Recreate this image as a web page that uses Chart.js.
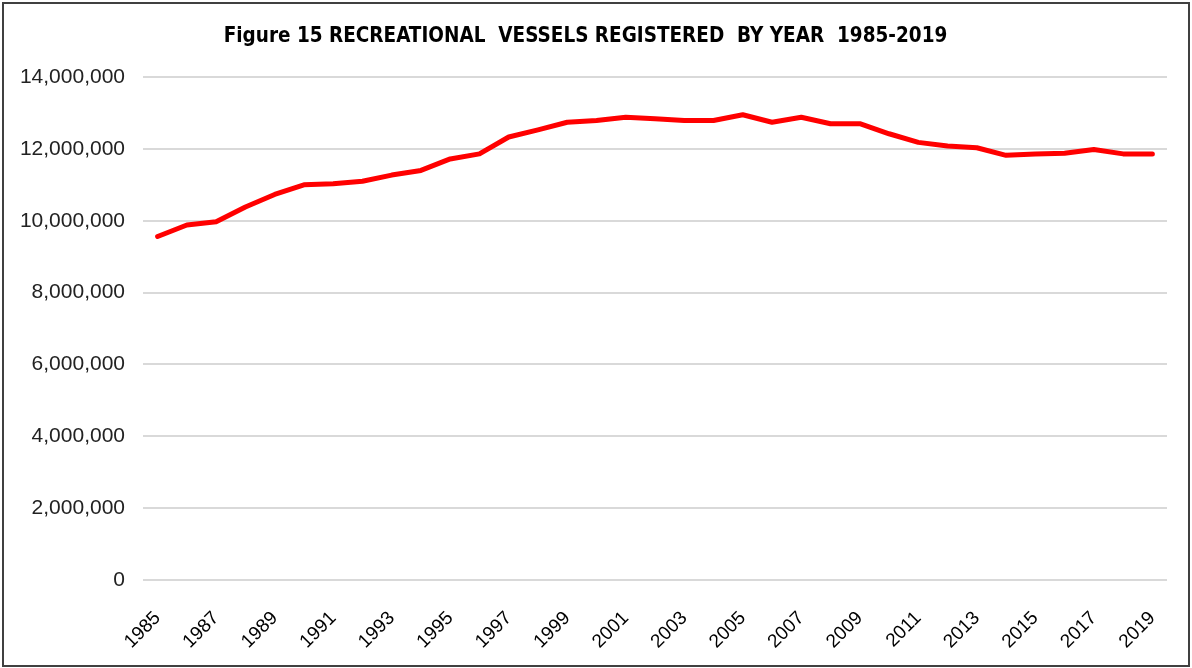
<!DOCTYPE html>
<html>
<head>
<meta charset="utf-8">
<script src="https://cdn.jsdelivr.net/npm/chart.js@4.4.1/dist/chart.umd.min.js"></script>
<style>
  html, body { margin: 0; padding: 0; background: #fff; }
  #wrap { position: absolute; left: 2px; top: 2px; width: 1188px; height: 665px;
          border: 2px solid #404040; box-sizing: border-box; background: #fff; }
  #c { position: absolute; left: 0; top: 0; }
</style>
</head>
<body>
<div id="wrap"><canvas id="c" width="1184" height="661"></canvas></div>
<script>
const titleText = "Figure 15 RECREATIONAL  VESSELS REGISTERED  BY YEAR  1985-2019";
const years = [
  "1985","1986","1987","1988","1989","1990","1991","1992","1993","1994",
  "1995","1996","1997","1998","1999","2000","2001","2002","2003","2004",
  "2005","2006","2007","2008","2009","2010","2011","2012","2013","2014",
  "2015","2016","2017","2018","2019"
];
const vessels = [
  9560000, 9880000, 9970000, 10380000, 10730000, 11000000, 11030000, 11100000, 11270000, 11400000,
  11720000, 11860000, 12330000, 12530000, 12740000, 12790000, 12880000, 12840000, 12790000, 12790000,
  12950000, 12740000, 12880000, 12700000, 12700000, 12420000, 12180000, 12080000, 12030000, 11820000,
  11860000, 11880000, 11980000, 11860000, 11860000
];
const yMin = 0, yMax = 14000000, yStep = 2000000;

const sansFont = "'Liberation Sans', Arial, sans-serif";
const narrowFont = "'Liberation Sans Narrow', 'Arial Narrow', 'DejaVu Sans Condensed', sans-serif";

new Chart(document.getElementById('c'), {
  type: 'line',
  data: {
    labels: years,
    datasets: [{
      data: vessels,
      borderColor: '#ff0000',
      backgroundColor: '#ff0000',
      borderWidth: 5,
      pointRadius: 0,
      tension: 0,
      borderCapStyle: 'round',
      borderJoinStyle: 'round'
    }]
  },
  options: {
    responsive: false,
    animation: false,
    layout: { padding: { left: 0, right: 21, top: 0, bottom: 0 } },
    plugins: {
      legend: { display: false },
      tooltip: { enabled: false },
      title: {
        display: true,
        text: titleText,
        color: '#000',
        font: { family: narrowFont, size: 20.5, weight: 'bold', lineHeight: 1.2 },
        padding: { top: 20, bottom: 28.4 }
      }
    },
    scales: {
      x: {
        offset: true,
        grid: { display: false, drawTicks: false },
        border: { display: false },
        ticks: {
          autoSkip: false,
          minRotation: 45,
          maxRotation: 45,
          padding: 27,
          color: '#000',
          font: { family: sansFont, size: 19 },
          callback: function(v, i) { return i % 2 === 0 ? years[i] : ''; }
        },
        afterFit: function(s) { s.height = 85; s.paddingLeft = 0; s.paddingRight = 0; }
      },
      y: {
        min: yMin, max: yMax,
        grid: { color: '#d9d9d9', lineWidth: 2, drawTicks: false },
        border: { display: false },
        ticks: {
          stepSize: yStep,
          padding: 18,
          color: '#222',
          font: { family: sansFont, size: 21 },
          callback: function(v) { return v.toLocaleString('en-US'); }
        },
        afterFit: function(s) { s.width = 139; }
      }
    }
  }
});
</script>
</body>
</html>
